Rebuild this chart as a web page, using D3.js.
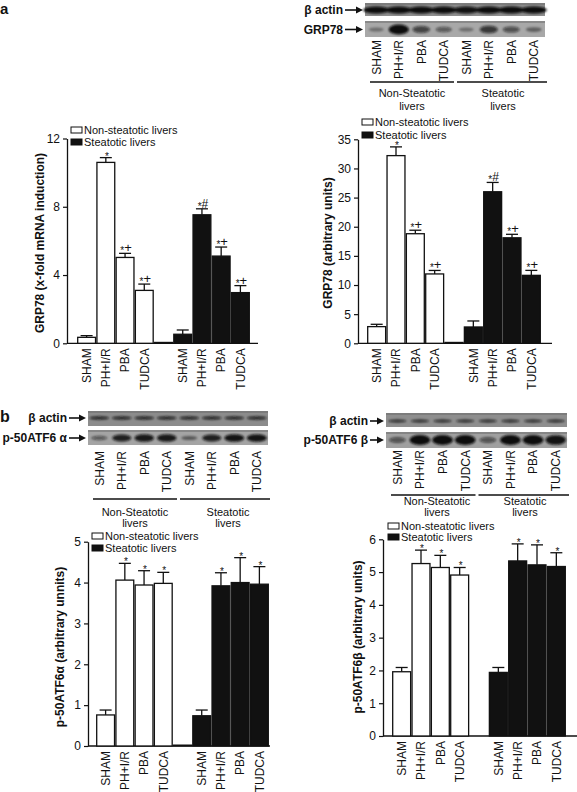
<!DOCTYPE html>
<html><head><meta charset="utf-8">
<script src="https://cdn.jsdelivr.net/npm/d3@7"></script>
<style>
body{margin:0;background:#fff}
svg{display:block}
text{font-family:"Liberation Sans",Arial,Helvetica,sans-serif;fill:#111}
</style>
</head><body>
<svg id="fig" width="577" height="792"></svg>
<script>
// ---------------- DATA ----------------
const treatments = ["SHAM", "PH+I/R", "PBA", "TUDCA"];
const legendNames = ["Non-steatotic livers", "Steatotic livers"];
const blotGroupLines = [["Non-Steatotic", "livers"], ["Steatotic", "livers"]];

// Panel a, left: GRP78 mRNA
const mrnaNon = [0.35, 10.6, 5.03, 3.1];
const mrnaNonErr = [0.1, 0.28, 0.24, 0.37];
const mrnaSte = [0.53, 7.53, 5.11, 2.97];
const mrnaSteErr = [0.25, 0.35, 0.53, 0.41];
const mrnaNonSig = ["", "*", "*+", "*+"];
const mrnaSteSig = ["", "*#", "*+", "*+"];
const mrnaTicks = [0, 4, 8, 12];

// Panel a, right: GRP78 protein
const protNon = [2.86, 32.2, 18.8, 11.9];
const protNonErr = [0.4, 1.5, 0.6, 0.6];
const protSte = [2.8, 26.0, 18.1, 11.66];
const protSteErr = [1.03, 1.6, 0.6, 0.85];
const protNonSig = ["", "*", "*+", "*+"];
const protSteSig = ["", "*#", "*+", "*+"];
const protTicks = [0, 5, 10, 15, 20, 25, 30, 35];

// Panel b, left: p-50ATF6 alpha
const alphaNon = [0.76, 4.06, 3.94, 3.98];
const alphaNonErr = [0.12, 0.41, 0.35, 0.27];
const alphaSte = [0.74, 3.92, 4.0, 3.96];
const alphaSteErr = [0.14, 0.32, 0.61, 0.43];
const alphaNonSig = ["", "*", "*", "*"];
const alphaSteSig = ["", "*", "*", "*"];
const alphaTicks = [0, 1, 2, 3, 4, 5];

// Panel b, right: p-50ATF6 beta
const betaNon = [1.96, 5.26, 5.14, 4.91];
const betaNonErr = [0.13, 0.41, 0.37, 0.23];
const betaSte = [1.94, 5.34, 5.22, 5.17];
const betaSteErr = [0.15, 0.52, 0.61, 0.42];
const betaNonSig = ["", "*", "*", "*"];
const betaSteSig = ["", "*", "*", "*"];
const betaTicks = [0, 1, 2, 3, 4, 5, 6];

// Western blot band intensities (8 lanes: 4 non-steatotic, 4 steatotic)
const blotA_actin = [1, 1, 1, 1, 0.95, 1, 1, 1];
const blotA_grp78 = [0.15, 1, 0.55, 0.35, 0.15, 0.65, 0.45, 0.25];
const blotBL_actin = [0.75, 0.75, 0.75, 0.75, 0.75, 0.75, 0.75, 0.75];
const blotBL_atf6a = [0.35, 0.85, 0.9, 0.9, 0.3, 0.85, 0.95, 0.95];
const blotBR_actin = [0.7, 0.7, 0.7, 0.7, 0.7, 0.7, 0.7, 0.7];
const blotBR_atf6b = [0.4, 1, 1, 1, 0.4, 1, 1, 0.95];

// ---------------- DRAWING ----------------
const svg = d3.select("#fig");
svg.append("rect").attr("width", 577).attr("height", 792).attr("fill", "#fff");
const defs = svg.append("defs");
defs.append("filter").attr("id", "blur").attr("x", "-50%").attr("y", "-50%").attr("width", "200%").attr("height", "200%")
  .append("feGaussianBlur").attr("stdDeviation", 0.9);

const slots = ["n0", "n1", "n2", "n3", "gap", "s0", "s1", "s2", "s3"];

function drawArrow(g, x1, x2, y) {
  g.append("line").attr("x1", x1).attr("x2", x2 - 5).attr("y1", y).attr("y2", y)
    .attr("stroke", "#111").attr("stroke-width", 1.6);
  g.append("path").attr("d", `M${x2},${y}L${x2 - 7},${y - 3.5}L${x2 - 7},${y + 3.5}Z`).attr("fill", "#111");
}

function sigText(g, x, yTop, s) {
  if (!s) return;
  const t = g.append("text").attr("x", x).attr("y", yTop - 1).attr("text-anchor", "middle");
  if (s === "*") {
    t.append("tspan").attr("font-size", 10).attr("dy", 3).attr("fill", "#111").text("*");
    return;
  }
  t.append("tspan").attr("font-size", 10).attr("dy", 2).attr("fill", "#111").text("*");
  t.append("tspan").attr("font-size", s[1] === "#" ? 12 : 13).attr("dy", -2).attr("fill", "#111").text(s[1]);
}

function barChart(c) {
  const g = svg.append("g");
  const x = d3.scaleBand().domain(slots).range([c.x0, c.x1]).padding(0);
  const y = d3.scaleLinear().domain([0, c.max]).range([c.base, c.top]);
  const rows = [];
  treatments.forEach((t, i) => rows.push({slot: "n" + i, label: t, v: c.non[i], e: c.nonErr[i], sig: c.nonSig[i], fill: "#fff"}));
  treatments.forEach((t, i) => rows.push({slot: "s" + i, label: t, v: c.ste[i], e: c.steErr[i], sig: c.steSig[i], fill: "#111"}));

  // x axis line
  g.append("line").attr("x1", c.axisX).attr("x2", c.xEnd).attr("y1", c.base).attr("y2", c.base)
    .attr("stroke", "#111").attr("stroke-width", 1.3);
  if (c.gapBar) {
    g.append("rect").attr("x", x("gap")).attr("width", x.bandwidth()).attr("y", c.base - 1.5).attr("height", 2)
      .attr("fill", "#111");
  }
  // error bars
  rows.forEach(r => {
    const cx = x(r.slot) + x.bandwidth() / 2;
    g.append("line").attr("x1", cx).attr("x2", cx).attr("y1", y(r.v)).attr("y2", y(r.v + r.e))
      .attr("stroke", "#111").attr("stroke-width", 1.3);
    g.append("line").attr("x1", cx - 6).attr("x2", cx + 6).attr("y1", y(r.v + r.e)).attr("y2", y(r.v + r.e))
      .attr("stroke", "#111").attr("stroke-width", 1.3);
  });
  // bars
  g.selectAll("rect.bar").data(rows).join("rect").attr("class", "bar")
    .attr("x", d => x(d.slot) + 0.7).attr("width", x.bandwidth() - 1.4)
    .attr("y", d => y(d.v)).attr("height", d => c.base - y(d.v))
    .attr("fill", d => d.fill).attr("stroke", "#111").attr("stroke-width", 1.3);
  // significance marks
  rows.forEach(r => sigText(g, x(r.slot) + x.bandwidth() / 2 + 1, y(r.v + r.e), r.sig));
  // y axis
  const ax = g.append("g").attr("transform", `translate(${c.axisX},0)`)
    .call(d3.axisLeft(y).tickValues(c.ticks).tickFormat(d3.format("d")).tickSize(4).tickSizeOuter(0).tickPadding(3));
  ax.select(".domain").attr("stroke", "#111").attr("stroke-width", 1.3);
  ax.selectAll(".tick line").attr("stroke", "#111").attr("stroke-width", 1.2);
  ax.selectAll(".tick text").attr("font-size", 12).attr("font-family", "Liberation Sans, Arial, sans-serif").attr("fill", "#111");
  // x labels
  rows.forEach(r => {
    const cx = x(r.slot) + x.bandwidth() / 2;
    g.append("text").attr("transform", `translate(${cx},${c.base + 5}) rotate(-90)`)
      .attr("text-anchor", "end").attr("dy", "0.36em").attr("font-size", 12).text(r.label);
  });
  // y label
  g.append("text").attr("transform", `translate(${c.labelX},${c.labelY}) rotate(-90)`)
    .attr("text-anchor", "middle").attr("font-size", 12).attr("font-weight", "bold").text(c.ylabel);
  // legend
  legendNames.forEach((n, i) => {
    const ly = c.legY[i];
    g.append("rect").attr("x", c.legX).attr("y", ly - 3).attr("width", 11).attr("height", 6)
      .attr("fill", i === 0 ? "#fff" : "#111").attr("stroke", "#111").attr("stroke-width", 1);
    g.append("text").attr("x", c.legX + 13).attr("y", ly + 4).attr("font-size", 11).text(n);
  });
}

function blot(c) {
  const g = svg.append("g");
  const lanes = d3.range(8);
  const x = d3.scaleBand().domain(lanes).range([c.x0, c.x1]);
  const lw = x.bandwidth();
  c.rows.forEach(r => {
    g.append("rect").attr("x", c.x0).attr("y", r.y).attr("width", c.x1 - c.x0).attr("height", r.h)
      .attr("fill", r.bg);
    g.append("rect").attr("x", c.x0).attr("y", r.y).attr("width", c.x1 - c.x0).attr("height", 2)
      .attr("fill", "#6a6a6a").attr("opacity", 0.5);
    const bg = g.append("g").attr("filter", "url(#blur)");
    r.bands.forEach((v, i) => {
      const cx = x(i) + lw / 2;
      const h = r.maxH * (0.3 + 0.7 * v);
      const w = lw * r.wf * (0.7 + 0.3 * v);
      bg.append("ellipse").attr("cx", cx).attr("cy", r.cy).attr("rx", w).attr("ry", h / 2)
        .attr("fill", "#0d0d0d").attr("opacity", 0.25 + 0.75 * v);
    });
    g.append("text").attr("x", c.labelEnd).attr("y", r.cy + 4).attr("text-anchor", "end")
      .attr("font-size", 12).attr("font-weight", "bold").text(r.label);
    drawArrow(g, c.labelEnd + 2, c.x0 - 2, r.cy);
  });
  // lane labels
  lanes.forEach(i => {
    const cx = x(i) + lw / 2;
    g.append("text").attr("transform", `translate(${cx},${c.laneTop}) rotate(-90)`)
      .attr("text-anchor", "end").attr("dy", "0.36em").attr("font-size", 12).text(treatments[i % 4]);
  });
  // group lines and labels
  [0, 1].forEach(k => {
    const a = x(k * 4) + (k === 0 ? 5 : 2);
    const b = x(k * 4 + 3) + lw + (k === 0 ? -1 : 2);
    g.append("line").attr("x1", a).attr("x2", b).attr("y1", c.lineY).attr("y2", c.lineY)
      .attr("stroke", "#111").attr("stroke-width", 1.3);
    const mid = c.groupCx[k];
    blotGroupLines[k].forEach((t, j) => {
      g.append("text").attr("x", mid).attr("y", c.groupY[j]).attr("text-anchor", "middle")
        .attr("font-size", 11).text(t);
    });
  });
}

// Panel labels
svg.append("text").attr("x", 0).attr("y", 14).attr("font-size", 15).attr("font-weight", "bold").text("a");
svg.append("text").attr("x", 0).attr("y", 422).attr("font-size", 16).attr("font-weight", "bold").text("b");

// Blots
blot({x0: 365, x1: 545, labelEnd: 343, laneTop: 40, lineY: 82, groupCx: [412, 503], groupY: [97, 110],
  rows: [
    {label: "β actin", y: 3, h: 13, bg: "#8e8e8e", cy: 10, maxH: 7, wf: 0.58, bands: blotA_actin},
    {label: "GRP78", y: 21, h: 16, bg: "#a8a8a8", cy: 29.5, maxH: 10, wf: 0.45, bands: blotA_grp78}
  ]});
blot({x0: 88, x1: 268, labelEnd: 67, laneTop: 451, lineY: 499, groupCx: [135, 228], groupY: [516, 527],
  rows: [
    {label: "β actin", y: 411, h: 15, bg: "#8c8c8c", cy: 418, maxH: 4, wf: 0.47, bands: blotBL_actin},
    {label: "p-50ATF6 α", y: 430, h: 15, bg: "#a4a4a4", cy: 438, maxH: 8, wf: 0.45, bands: blotBL_atf6a}
  ]});
blot({x0: 386, x1: 567, labelEnd: 368, laneTop: 450, lineY: 495, groupCx: [437, 525], groupY: [505, 516],
  rows: [
    {label: "β actin", y: 413, h: 14, bg: "#8e8e8e", cy: 421, maxH: 4, wf: 0.45, bands: blotBR_actin},
    {label: "p-50ATF6 β", y: 432, h: 16, bg: "#a0a0a0", cy: 440, maxH: 10, wf: 0.46, bands: blotBR_atf6b}
  ]});

// Bar charts
barChart({non: mrnaNon, nonErr: mrnaNonErr, ste: mrnaSte, steErr: mrnaSteErr, nonSig: mrnaNonSig, steSig: mrnaSteSig,
  ticks: mrnaTicks, max: 12, axisX: 67, x0: 77, x1: 250, xEnd: 258, base: 343.3, top: 138.5, gapBar: true,
  ylabel: "GRP78 (x-fold mRNA induction)", labelX: 44, labelY: 243, legX: 71, legY: [130, 142]});
barChart({non: protNon, nonErr: protNonErr, ste: protSte, steErr: protSteErr, nonSig: protNonSig, steSig: protSteSig,
  ticks: protTicks, max: 35, axisX: 358, x0: 367, x1: 541, xEnd: 552, base: 343.3, top: 139.3, gapBar: true,
  ylabel: "GRP78 (arbitrary units)", labelX: 332, labelY: 243, legX: 362, legY: [122, 135]});
barChart({non: alphaNon, nonErr: alphaNonErr, ste: alphaSte, steErr: alphaSteErr, nonSig: alphaNonSig, steSig: alphaSteSig,
  ticks: alphaTicks, max: 5, axisX: 88, x0: 96, x1: 269, xEnd: 270, base: 746, top: 541.7, gapBar: true,
  ylabel: "p-50ATF6α (arbitrary unnits)", labelX: 64, labelY: 647, legX: 92, legY: [536, 548]});
barChart({non: betaNon, nonErr: betaNonErr, ste: betaSte, steErr: betaSteErr, nonSig: betaNonSig, steSig: betaSteSig,
  ticks: betaTicks, max: 6, axisX: 383, x0: 392, x1: 566, xEnd: 577, base: 736, top: 539.3, gapBar: false,
  ylabel: "p-50ATF6β (arbitrary units)", labelX: 362, labelY: 637, legX: 388, legY: [526, 537]});
</script>
</body></html>
